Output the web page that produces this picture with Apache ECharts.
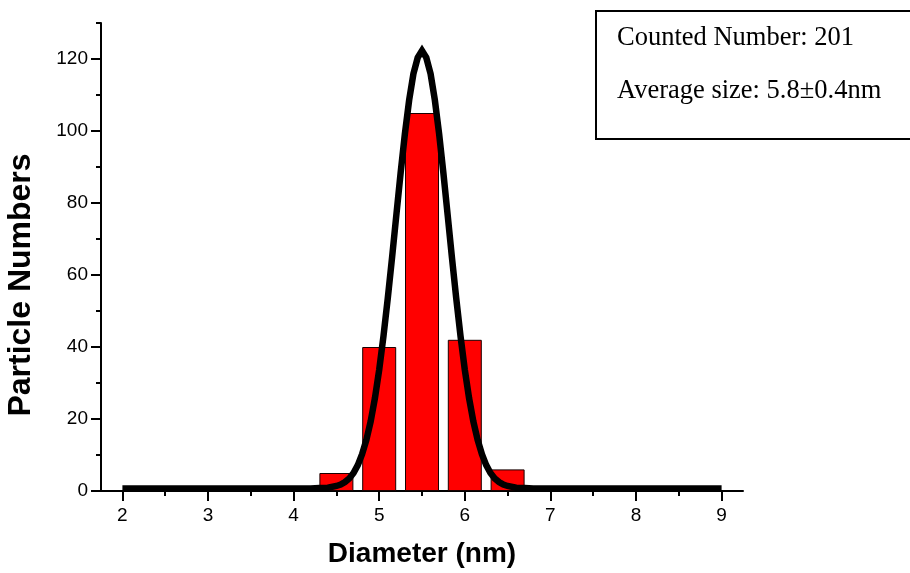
<!DOCTYPE html>
<html>
<head>
<meta charset="utf-8">
<script src="https://cdn.jsdelivr.net/npm/echarts@6/dist/echarts.min.js"></script>
<style>html,body{margin:0;padding:0;background:#fff;}#c{width:910px;height:573px;}</style>
</head>
<body>
<div id="c"></div>
<script>
// Histogram bins (bin centers, nm) and counts
const binCenters = [4.5, 5.0, 5.5, 6.0, 6.5];
const binCounts = [5, 40, 105, 42, 6];
// Gaussian fit curve
const curveX = [2.0, 3.0, 4.0, 4.2, 4.3, 4.4, 4.5, 4.55, 4.6, 4.65, 4.7, 4.75, 4.8, 4.85, 4.9, 4.95,
  5.0, 5.05, 5.1, 5.15, 5.2, 5.25, 5.3, 5.35, 5.4, 5.45, 5.5, 5.55, 5.6, 5.65, 5.7, 5.75, 5.8,
  5.85, 5.9, 5.95, 6.0, 6.05, 6.1, 6.15, 6.2, 6.25, 6.3, 6.35, 6.4, 6.45, 6.5, 6.6, 6.7, 6.8, 7.0, 8.0, 9.0];
const curveY = [0.7, 0.7, 0.7, 0.7, 0.8, 0.9, 1.4, 1.8, 2.5, 3.5, 5.0, 7.2, 10.2, 14.2, 19.3, 25.8,
  33.7, 43.0, 53.5, 64.8, 76.6, 88.3, 99.2, 108.6, 115.9, 120.4, 122.3, 120.4, 115.9, 108.6, 99.2, 88.3, 76.6,
  64.8, 53.5, 43.0, 33.7, 25.8, 19.3, 14.2, 10.2, 7.2, 5.0, 3.5, 2.5, 1.8, 1.4, 0.9, 0.8, 0.7, 0.7, 0.7, 0.7];
// Axis ticks
const xMajorTicks = [2, 3, 4, 5, 6, 7, 8, 9];
const xMinorTicks = [2.5, 3.5, 4.5, 5.5, 6.5, 7.5, 8.5];
const yMajorTicks = [0, 20, 40, 60, 80, 100, 120];
const yMinorTicks = [10, 30, 50, 70, 90, 110, 130];
const xTitle = 'Diameter (nm)';
const yTitle = 'Particle Numbers';
const infoLines = ['Counted Number: 201', 'Average size: 5.8±0.4nm'];

const chart = echarts.init(document.getElementById('c'), null, {renderer: 'canvas'});
const axisLineStyle = {color: '#000', width: 2};
const labelFont = {fontFamily: 'Liberation Sans, Arial, sans-serif', fontSize: 19, color: '#000'};

const option = {
  backgroundColor: '#fff',
  animation: false,
  grid: {left: 101, top: 23, right: 167, bottom: 82, containLabel: false},
  xAxis: [
    {
      type: 'value', min: 1.75, max: 9.25, position: 'bottom',
      axisLine: {show: true, onZero: false, lineStyle: axisLineStyle},
      axisTick: {show: true, customValues: xMajorTicks, length: 10, inside: false, lineStyle: axisLineStyle},
      axisLabel: Object.assign({show: true, customValues: xMajorTicks, margin: 15}, labelFont),
      splitLine: {show: false},
      name: xTitle, nameLocation: 'middle', nameGap: 49,
      nameTextStyle: {fontFamily: 'Liberation Sans, Arial, sans-serif', fontWeight: 'bold', fontSize: 28, color: '#000'}
    },
    {
      type: 'value', min: 1.75, max: 9.25, position: 'bottom',
      axisLine: {show: false},
      axisTick: {show: true, customValues: xMinorTicks, length: 5, inside: false, lineStyle: axisLineStyle},
      axisLabel: {show: false},
      splitLine: {show: false}
    }
  ],
  yAxis: [
    {
      type: 'value', min: 0, max: 130, position: 'left',
      axisLine: {show: true, onZero: false, lineStyle: axisLineStyle},
      axisTick: {show: true, customValues: yMajorTicks, length: 10, inside: false, lineStyle: axisLineStyle},
      axisLabel: Object.assign({show: true, customValues: yMajorTicks, margin: 13}, labelFont),
      splitLine: {show: false}
    },
    {
      type: 'value', min: 0, max: 130, position: 'left',
      axisLine: {show: false},
      axisTick: {show: true, customValues: yMinorTicks, length: 5, inside: false, lineStyle: axisLineStyle},
      axisLabel: {show: false},
      splitLine: {show: false}
    }
  ],
  series: [
    {
      type: 'bar', xAxisIndex: 0, yAxisIndex: 0,
      data: binCenters.map((x, i) => [x, binCounts[i]]),
      barWidth: 34,
      itemStyle: {color: '#ff0000', borderColor: '#1a0000', borderWidth: 1},
      z: 2
    },
    {
      type: 'line', xAxisIndex: 0, yAxisIndex: 0,
      data: curveX.map((x, i) => [x, curveY[i]]),
      showSymbol: false, symbol: 'none', smooth: false,
      lineStyle: {color: '#000', width: 6.5, cap: 'butt', join: 'miter'},
      z: 3
    }
  ],
  graphic: [
    {
      type: 'text', x: 21.5, y: 285, rotation: Math.PI / 2,
      style: {text: yTitle, fontFamily: 'Liberation Sans, Arial, sans-serif', fontWeight: 'bold', fontSize: 32,
        fill: '#000', align: 'center', verticalAlign: 'middle'}
    },
    {
      type: 'rect', shape: {x: 596, y: 11, width: 330, height: 128},
      style: {fill: '#fff', stroke: '#000', lineWidth: 2}, z: 10
    },
    {
      type: 'text', x: 617, y: 37.8, z: 11,
      style: {text: infoLines[0], fontFamily: 'Liberation Serif, Times New Roman, serif', fontSize: 26.5,
        fill: '#000', align: 'left', verticalAlign: 'middle'}
    },
    {
      type: 'text', x: 617, y: 91.1, z: 11,
      style: {text: infoLines[1], fontFamily: 'Liberation Serif, Times New Roman, serif', fontSize: 26.5,
        fill: '#000', align: 'left', verticalAlign: 'middle'}
    }
  ]
};
chart.setOption(option);
</script>
</body>
</html>
